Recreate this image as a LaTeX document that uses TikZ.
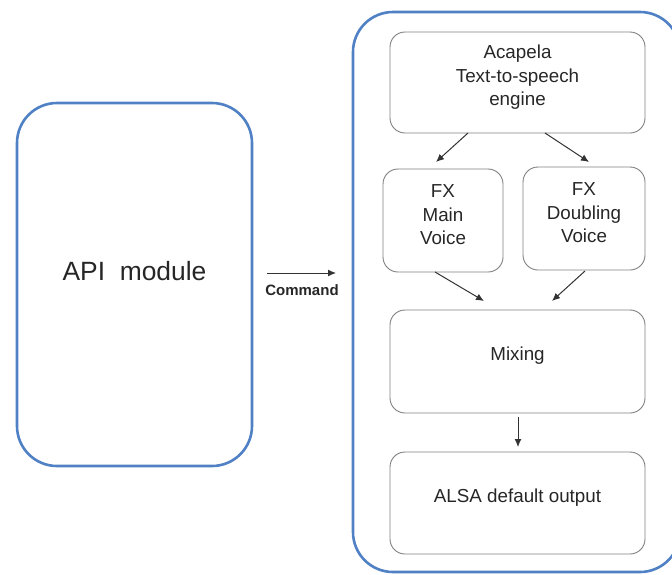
\documentclass[tikz,border=0pt]{standalone}
\usepackage{fontspec}
\setmainfont{Liberation Sans}
\usetikzlibrary{arrows.meta}
\definecolor{frameblue}{HTML}{4F81C4}
\definecolor{boxgray}{HTML}{7F7F7F}
\definecolor{txt}{HTML}{262626}
\definecolor{arr}{HTML}{333333}
\tikzset{
  container/.style={draw=frameblue, line width=2.6pt, rounded corners=40pt},
  stage/.style={draw=boxgray, line width=0.9pt, rounded corners=15pt},
  lbl/.style={text=txt, align=center, font=\fontsize{18.8}{23.5}\selectfont, inner sep=0pt},
  flow/.style={draw=arr, line width=1pt, -{Latex[length=8pt,width=7pt]}}
}
\begin{document}
\begin{tikzpicture}[x=1pt,y=-1pt]
\useasboundingbox (0,0) rectangle (672,574);
\begin{scope}
\clip (0,0) rectangle (672,574);
% containers
\draw[container] (17,103) rectangle (252,466);
\node[lbl, font=\fontsize{26.4}{30}\selectfont] (api) at (134.5,271) {API~~module};
\draw[container] (353,12) rectangle (680,572);
% boxes
\draw[stage] (390,32) rectangle (645,133);
\node[lbl] (aca) at (517.5,77.5) {Acapela\\Text-to-speech\\engine};
\draw[stage] (383,169) rectangle (503,272);
\node[lbl] (fxm) at (443,215) {FX\\Main\\Voice};
\draw[stage] (523,167) rectangle (645,270);
\node[lbl] (fxd) at (584,213) {FX\\Doubling\\Voice};
\draw[stage] (390,310) rectangle (645,413);
\node[lbl] (mix) at (517.5,356) {Mixing};
\draw[stage] (390,452) rectangle (645,554);
\node[lbl] (alsa) at (517.5,498) {ALSA default output};
\end{scope}
% command arrow
\coordinate (c1) at (267,273);
\coordinate (c2) at (336,273);
\draw[flow] (c1) -- (c2);
\node[lbl, font=\bfseries\fontsize{15}{17}\selectfont] (cmd) at (302,290.5) {Command};
% flow arrows
\coordinate (a1s) at (468,133); \coordinate (a1e) at (436,162);
\coordinate (a2s) at (545,133); \coordinate (a2e) at (589,162);
\coordinate (a3s) at (435,272); \coordinate (a3e) at (484,301);
\coordinate (a4s) at (585,271); \coordinate (a4e) at (552,301);
\coordinate (a5s) at (518,417); \coordinate (a5e) at (518,447);
\draw[flow] (a1s) -- (a1e);
\draw[flow] (a2s) -- (a2e);
\draw[flow] (a3s) -- (a3e);
\draw[flow] (a4s) -- (a4e);
\draw[flow] (a5s) -- (a5e);
\end{tikzpicture}
\end{document}
